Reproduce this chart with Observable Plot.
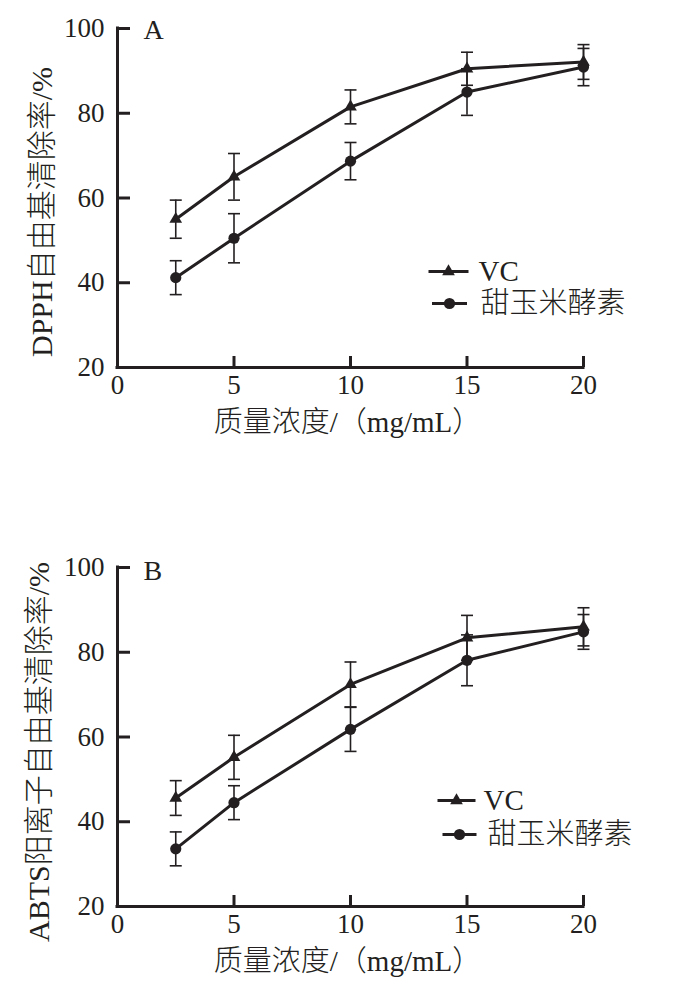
<!DOCTYPE html>
<html>
<head>
<meta charset="utf-8">
<script src="https://cdn.jsdelivr.net/npm/d3@7"></script>
<script src="https://cdn.jsdelivr.net/npm/@observablehq/plot@0.6"></script>
<style>
  body { margin: 0; background: #fff; }
  #chart svg { display: block; }
</style>
</head>
<body>
<div id="chart"></div>
<script>
// Mass concentration (mg/mL)
const concentration = [2.5, 5, 10, 15, 20];

// A: DPPH radical scavenging rate (%)
const dpphVC = [55.0, 65.0, 81.5, 90.5, 92.1];
const dpphVCErr = [4.5, 5.5, 4.0, 3.9, 4.1];
const dpphEnzyme = [41.2, 50.5, 68.7, 85.0, 90.9];
const dpphEnzymeErr = [4.0, 5.8, 4.4, 5.5, 4.4];

// B: ABTS cation radical scavenging rate (%)
const abtsVC = [45.6, 55.2, 72.4, 83.4, 86.0];
const abtsVCErr = [4.1, 5.2, 5.3, 5.3, 4.5];
const abtsEnzyme = [33.6, 44.5, 61.8, 78.1, 84.8];
const abtsEnzymeErr = [4.0, 4.0, 5.2, 6.0, 4.1];

const xTicks = [0, 5, 10, 15, 20];
const yTicks = [20, 40, 60, 80, 100];
const seriesNames = ["VC", "甜玉米酵素"];
const xTitle = "质量浓度/（mg/mL）";

const ink = "#231f20";
const fontStack = `"Liberation Serif", "Times New Roman", "Noto Sans CJK SC", serif`;

// A horizontal stroke used for error-bar caps and legend keys
const hline = {
  draw(context, size) {
    const h = Math.sqrt(size / Math.PI);
    context.moveTo(-h, 0);
    context.lineTo(h, 0);
  }
};

function rows(values, errors, name) {
  return concentration.map((c, i) => ({x: c, y: values[i], e: errors[i], name}));
}

function legendEntry(label, symbol, r, key, text) {
  return [
    Plot.dot([label], {frameAnchor: "top-left", dx: key.dx, dy: key.dy, symbol: hline, r: key.half, fill: "none", stroke: ink, strokeWidth: 3}),
    Plot.dot([label], {frameAnchor: "top-left", dx: key.dx, dy: key.dy, symbol, r, fill: ink, stroke: "none"}),
    Plot.text([label], {frameAnchor: "top-left", dx: text.dx, dy: key.dy, text: d => d, textAnchor: "start", lineAnchor: "middle", fontSize: 29, fontWeight: 300, fill: ink})
  ];
}

function panel({letter, letterDy, yTitle, yTitleDx, yTitleDy, vc, vcErr, enz, enzErr, height, marginBottom, legend}) {
  const vcRows = rows(vc, vcErr, seriesNames[0]);
  const enzRows = rows(enz, enzErr, seriesNames[1]);
  const all = vcRows.concat(enzRows);
  return Plot.plot({
    width: 674,
    height,
    marginTop: 28,
    marginLeft: 117,
    marginRight: 91,
    marginBottom,
    style: {fontFamily: fontStack, color: ink, background: "white", overflow: "visible"},
    x: {domain: [0, 20]},
    y: {domain: [20, 100]},
    marks: [
      // tick labels
      Plot.axisX({ticks: xTicks, tickSize: 0, tickPadding: 7, fontSize: 27, label: null, fill: ink}),
      Plot.axisY({ticks: yTicks, tickSize: 0, tickPadding: 13, fontSize: 27, label: null, fill: ink}),
      // inward tick marks
      Plot.axisX({ticks: xTicks.slice(1), tickSize: -11, fill: "none", stroke: ink, strokeWidth: 3, label: null}),
      Plot.axisY({ticks: yTicks.slice(1), tickSize: -13, fill: "none", stroke: ink, strokeWidth: 3, label: null}),
      // axis lines
      Plot.ruleX([0], {stroke: ink, strokeWidth: 3, strokeLinecap: "square"}),
      Plot.ruleY([20], {stroke: ink, strokeWidth: 3, strokeLinecap: "square"}),
      // error bars
      Plot.ruleX(all, {x: "x", y1: d => d.y - d.e, y2: d => d.y + d.e, stroke: ink, strokeWidth: 1.6}),
      Plot.dot(all, {x: "x", y: d => d.y + d.e, symbol: hline, r: 6, fill: "none", stroke: ink, strokeWidth: 1.6}),
      Plot.dot(all, {x: "x", y: d => d.y - d.e, symbol: hline, r: 6, fill: "none", stroke: ink, strokeWidth: 1.6}),
      // series
      Plot.lineY(vcRows, {x: "x", y: "y", stroke: ink, strokeWidth: 3}),
      Plot.lineY(enzRows, {x: "x", y: "y", stroke: ink, strokeWidth: 3}),
      Plot.dot(vcRows, {x: "x", y: "y", symbol: "triangle", r: 4.7, fill: ink, stroke: "none"}),
      Plot.dot(enzRows, {x: "x", y: "y", symbol: "circle", r: 5.6, fill: ink, stroke: "none"}),
      // legend
      ...legendEntry(seriesNames[0], "triangle", 4.7, legend[0].key, legend[0].text),
      ...legendEntry(seriesNames[1], "circle", 5.6, legend[1].key, legend[1].text),
      // panel letter and axis titles
      Plot.text([letter], {frameAnchor: "top-left", dx: 26, dy: letterDy, text: d => d, textAnchor: "start", lineAnchor: "middle", fontSize: 28, fill: ink}),
      Plot.text([xTitle], {frameAnchor: "bottom", dx: -3, dy: 55, text: d => d, textAnchor: "middle", lineAnchor: "middle", fontSize: 29, fontWeight: 300, fill: ink}),
      Plot.text([yTitle], {frameAnchor: "left", dx: yTitleDx, dy: yTitleDy, rotate: -90, text: d => d, textAnchor: "middle", lineAnchor: "middle", fontSize: 30, fontWeight: 300, fill: ink})
    ]
  });
}

const chart = document.getElementById("chart");

chart.append(panel({
  letter: "A",
  letterDy: 2,
  yTitle: "DPPH自由基清除率/%",
  yTitleDx: -75,
  yTitleDy: 14,
  vc: dpphVC, vcErr: dpphVCErr,
  enz: dpphEnzyme, enzErr: dpphEnzymeErr,
  height: 539,
  marginBottom: 172,
  legend: [
    {key: {dx: 331, dy: 243, half: 20}, text: {dx: 361}},
    {key: {dx: 332, dy: 275, half: 17.5}, text: {dx: 363}}
  ]
}));

chart.append(panel({
  letter: "B",
  letterDy: 4,
  yTitle: "ABTS阳离子自由基清除率/%",
  yTitleDx: -78,
  yTitleDy: 15,
  vc: abtsVC, vcErr: abtsVCErr,
  enz: abtsEnzyme, enzErr: abtsEnzymeErr,
  height: 451,
  marginBottom: 84,
  legend: [
    {key: {dx: 339, dy: 233, half: 19}, text: {dx: 366}},
    {key: {dx: 342, dy: 267, half: 17}, text: {dx: 370}}
  ]
}));
</script>
</body>
</html>
